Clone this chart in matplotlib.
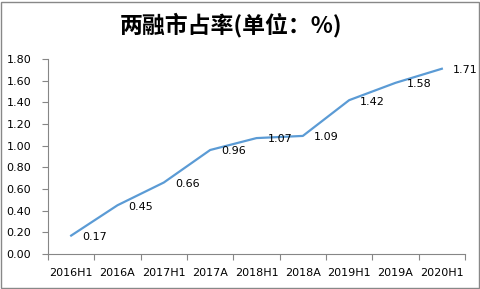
import matplotlib

matplotlib.use("Agg")
import matplotlib.pyplot as plt  # noqa: E402
from matplotlib.patches import Rectangle  # noqa: E402

categories = ["2016H1", "2016A", "2017H1", "2017A", "2018H1",
              "2018A", "2019H1", "2019A", "2020H1"]
share = [0.17, 0.45, 0.66, 0.96, 1.07, 1.09, 1.42, 1.58, 1.71]
yticks = [0.0, 0.2, 0.4, 0.6, 0.8, 1.0, 1.2, 1.4, 1.6, 1.8]

plt.rcParams["font.family"] = ["Noto Sans CJK SC", "DejaVu Sans"]

W, H = 481, 289
fig = plt.figure(figsize=(W / 100, H / 100), dpi=100)
ax = fig.add_axes([48 / W, 1 - 254 / H, (465 - 48) / W, (254 - 59) / H])

x = list(range(len(categories)))
ax.plot(x, share, color="#5B9BD5", linewidth=1.6, solid_joinstyle="round")
for xi, v in zip(x, share):
    ax.annotate(f"{v:.2f}", (xi, v), xytext=(8, -1), textcoords="offset points",
                ha="left", va="center", fontsize=8, family="DejaVu Sans")

ax.set_xlim(-0.5, len(categories) - 0.5)
ax.set_ylim(0, 1.8)
ax.set_yticks(yticks)
ax.set_yticklabels([f"{t:.2f}" for t in yticks], family="DejaVu Sans", fontsize=8)
ax.set_xticks(x)
ax.set_xticklabels(categories, family="DejaVu Sans", fontsize=8)
ax.set_xticks([i - 0.5 for i in range(len(categories) + 1)], minor=True)
ax.tick_params(axis="x", which="major", length=0, pad=10)
ax.tick_params(axis="x", which="minor", length=4, color="#868686", width=0.8)
ax.tick_params(axis="y", length=4, color="#868686", width=0.8, pad=8)

for side in ("top", "right"):
    ax.spines[side].set_visible(False)
for side in ("left", "bottom"):
    ax.spines[side].set_color("#868686")
    ax.spines[side].set_linewidth(0.8)

fig.text(231 / W, 1 - 25 / H, "两融市占率(单位：%)", ha="center", va="center",
         fontsize=16.5, fontweight="bold")

fig.patches.append(Rectangle((1 / W, 1 / H), 1 - 3 / W, 1 - 3 / H,
                             transform=fig.transFigure, fill=False,
                             edgecolor="#888888", linewidth=1))

fig.savefig("out.png", dpi=100)
